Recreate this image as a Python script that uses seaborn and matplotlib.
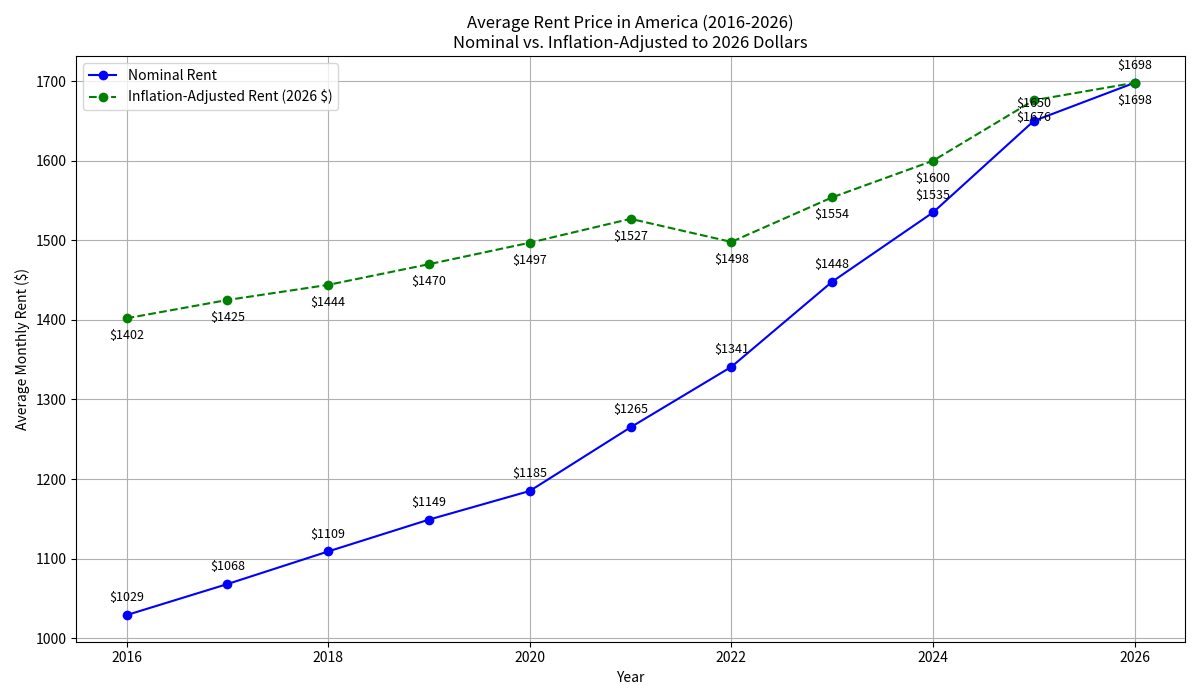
import numpy as np
import pandas as pd
import seaborn as sns
import matplotlib.pyplot as plt

years = [2016, 2017, 2018, 2019, 2020, 2021, 2022, 2023, 2024, 2025, 2026]
nominal_rent = [1029, 1068, 1109, 1149, 1185, 1265, 1341, 1448, 1535, 1650, 1698]
adjusted_rent = [1402, 1425, 1444, 1470, 1497, 1527, 1498, 1554, 1600, 1676, 1698]

plt.rcParams['font.family'] = ['Noto Sans CJK JP', 'DejaVu Sans']

df = pd.DataFrame({'Year': years, 'Nominal': nominal_rent, 'Adjusted': adjusted_rent})

fig, ax = plt.subplots(figsize=(12, 7), dpi=100)

sns.lineplot(data=df, x='Year', y='Nominal', ax=ax, color='blue', marker='o',
             markersize=7, markeredgewidth=0, label='Nominal Rent')
sns.lineplot(data=df, x='Year', y='Adjusted', ax=ax, color='green', marker='o',
             markersize=7, markeredgewidth=0, linestyle='--',
             label='Inflation-Adjusted Rent (2026 $)')

for x, y in zip(years, nominal_rent):
    ax.annotate(f'${y}', (x, y), textcoords='offset points', xytext=(0, 10),
                ha='center', fontsize=9)
for x, y in zip(years, adjusted_rent):
    ax.annotate(f'${y}', (x, y), textcoords='offset points', xytext=(0, -15),
                ha='center', fontsize=9)

ax.set_title('Average Rent Price in America (2016-2026)\nNominal vs. Inflation-Adjusted to 2026 Dollars',
             fontsize=12)
ax.set_xlabel('Year')
ax.set_ylabel('Average Monthly Rent ($)')
ax.set_xticks([2016, 2018, 2020, 2022, 2024, 2026])
ax.grid(True, color='#b0b0b0', linewidth=0.8)
ax.legend(loc='upper left')

plt.tight_layout()
plt.savefig('out.png')
